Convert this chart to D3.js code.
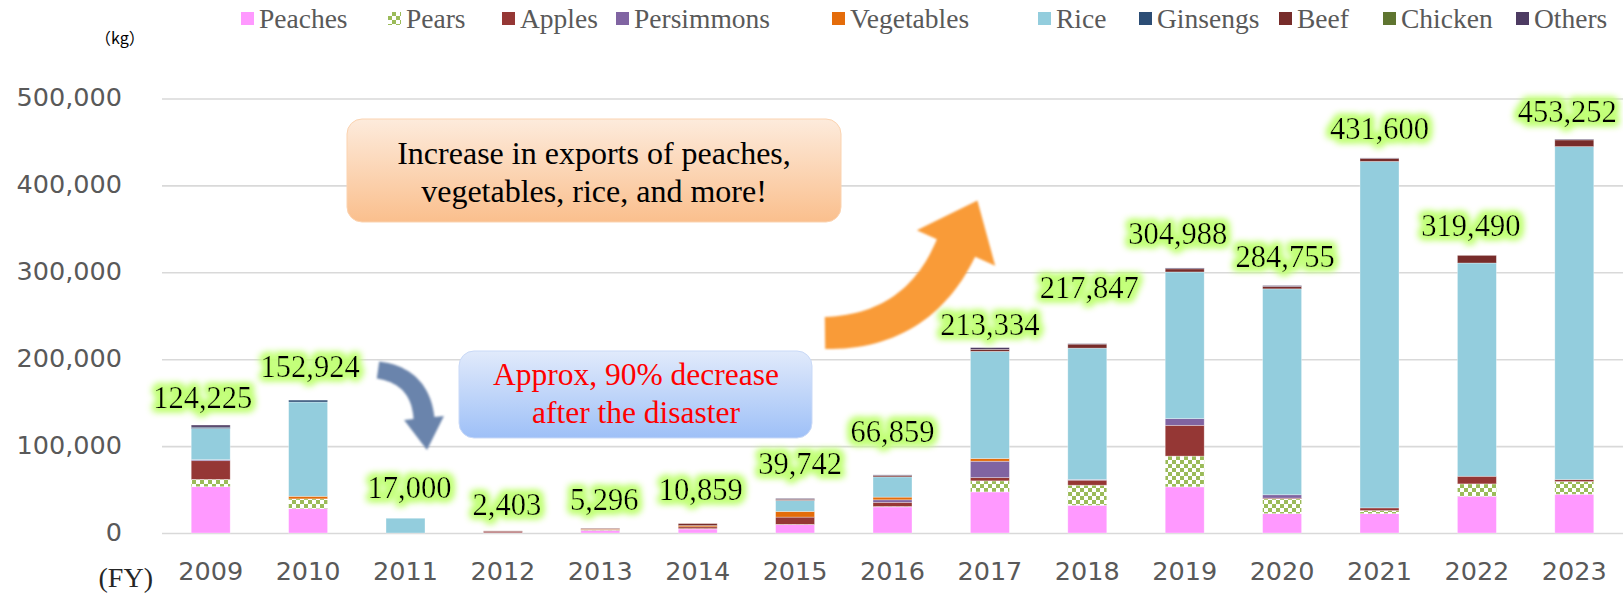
<!DOCTYPE html>
<html>
<head>
<meta charset="utf-8">
<title>Exports by item, FY2009-2023</title>
<script src="https://cdnjs.cloudflare.com/ajax/libs/d3/7.8.5/d3.min.js"></script>
<style>
body { margin: 0; background: #fff; }
svg { display: block; }
</style>
</head>
<body>
<div id="chart"></div>
<script>
// ---- data (kg) ----
var years = ["2009","2010","2011","2012","2013","2014","2015","2016","2017","2018","2019","2020","2021","2022","2023"];
var items = ["Peaches","Pears","Apples","Persimmons","Vegetables","Rice","Ginsengs","Beef","Chicken","Others"];

var peaches    = [53300, 28100,     0,  300, 2900, 4600, 9600, 30000, 47300, 31900, 53100, 22300, 22300, 42300, 44600];
var pears      = [ 8400, 11150,     0,    0,  300,  400,  300,   500, 12700, 23100, 35400, 16900,  3500, 14200, 14600];
var apples     = [21500,     0,     0, 1700,  800, 2100, 8400,  4800,  3800,  5800, 35400,  1000,  3100,  8800,  2300];
var persimmons = [ 1200,     0,     0,    0,    0,    0,    0,  2900, 18800,   800,  7700,  3800,     0,     0,     0];
var vegetables = [    0,  3000,     0,    0,  500, 1400, 6500,  3100,  3100,     0,     0,     0,     0,     0,     0];
var rice       = [35800,108474, 17000,    0,    0,    0,12700, 23300,123334,151147,168788,236955,398700,245390,383152];
var ginsengs   = [ 1600,  2200,     0,    0,    0,    0,    0,     0,     0,     0,     0,     0,     0,     0,     0];
var beef       = [    0,     0,     0,  403,  796, 2359, 1300,  1559,  2300,  4600,  3600,  2800,  3500,  8800,  7700];
var chicken    = [    0,     0,     0,    0,    0,    0,    0,     0,     0,     0,     0,     0,     0,     0,     0];
var others     = [ 2425,     0,     0,    0,    0,    0,  942,   700,  2000,   500,  1000,  1000,   500,     0,   900];

var totals = [124225, 152924, 17000, 2403, 5296, 10859, 39742, 66859, 213334, 217847, 304988, 284755, 431600, 319490, 453252];
var yTicks = [0, 100000, 200000, 300000, 400000, 500000];

// hand placement of the total labels in the original (px above bar top / px sideways)
var labelLift  = [17, 23, 20, 16, 18, 24, 24, 33, 13, 46, 24, 19, 19, 19, 17];
var labelShift = [-8, 2, 4, 4, 4, 3, 5, 0, 0, 2, -7, 3, 0, -6, -7];
// legend slots as laid out in the original
var legendX = [241, 388, 502, 616, 832, 1038, 1139, 1279, 1383, 1516];

var itemColors = ["#FF99FF", "url(#pearsCheck)", "#953735", "#8064A2", "#E46C0A",
                  "#93CDDD", "#2C4D75", "#772C2A", "#5F7530", "#4D3B62"];

var seriesValues = [peaches, pears, apples, persimmons, vegetables, rice, ginsengs, beef, chicken, others];

var table = years.map(function(y, i) {
  var row = { year: y };
  items.forEach(function(k, j) { row[k] = seriesValues[j][i]; });
  return row;
});

// ---- layout ----
var width = 1623, height = 593;
var plotLeft = 162, plotRight = 1623, plotBottom = 533, plotTop = 98.5;
var serif = "'Liberation Serif', 'Times New Roman', serif";
var sans = "'DejaVu Sans', sans-serif";

var svg = d3.select("#chart").append("svg")
  .attr("width", width)
  .attr("height", height);

var defs = svg.append("defs");

var pat = defs.append("pattern")
  .attr("id", "pearsCheck")
  .attr("width", 8).attr("height", 8)
  .attr("patternUnits", "userSpaceOnUse");
pat.append("rect").attr("width", 8).attr("height", 8).attr("fill", "#fff");
pat.append("rect").attr("width", 4).attr("height", 4).attr("fill", "#9BBB59");
pat.append("rect").attr("x", 4).attr("y", 4).attr("width", 4).attr("height", 4).attr("fill", "#9BBB59");

// green glow behind the totals
var glow = defs.append("filter").attr("id", "glow")
  .attr("x", "-25%").attr("y", "-60%").attr("width", "150%").attr("height", "220%");
glow.append("feMorphology").attr("in", "SourceAlpha").attr("operator", "dilate").attr("radius", 3).attr("result", "d");
glow.append("feGaussianBlur").attr("in", "d").attr("stdDeviation", 3.5).attr("result", "b");
glow.append("feFlood").attr("flood-color", "#c2ff78");
glow.append("feComposite").attr("in2", "b").attr("operator", "in").attr("result", "g");
var gm = glow.append("feMerge");
gm.append("feMergeNode").attr("in", "g");
gm.append("feMergeNode").attr("in", "g");
gm.append("feMergeNode").attr("in", "SourceGraphic");

var soft = defs.append("filter").attr("id", "soft");
soft.append("feGaussianBlur").attr("stdDeviation", 0.8);

function vGrad(id, top, bottom) {
  var g = defs.append("linearGradient").attr("id", id)
    .attr("x1", 0).attr("y1", 0).attr("x2", 0).attr("y2", 1);
  g.append("stop").attr("offset", "0%").attr("stop-color", top);
  g.append("stop").attr("offset", "100%").attr("stop-color", bottom);
}
vGrad("orangeBox", "#FDEBDC", "#FABF8D");
vGrad("blueBox", "#E1EAFB", "#9EC0F7");

// ---- scales ----
var x = d3.scaleBand()
  .domain(years)
  .range([plotLeft, plotRight])
  .paddingInner(0.6)
  .paddingOuter(0.3);

var y = d3.scaleLinear()
  .domain([0, 500000])
  .range([plotBottom, plotTop]);

// y axis + gridlines
var yAxis = svg.append("g")
  .attr("transform", "translate(" + plotLeft + ",0)")
  .call(d3.axisLeft(y).tickValues(yTicks).tickFormat(d3.format(","))
    .tickSize(-(plotRight - plotLeft)).tickPadding(40));
yAxis.select(".domain").remove();
yAxis.selectAll(".tick line").attr("stroke", "#D9D9D9").attr("stroke-width", 1.6);
yAxis.selectAll(".tick text")
  .attr("font-family", sans).attr("font-size", 25.5)
  .attr("fill", "#595959").attr("dy", "0.28em");

// x axis
var xAxis = svg.append("g")
  .attr("transform", "translate(0," + plotBottom + ")")
  .call(d3.axisBottom(x).tickSize(0).tickPadding(29));
xAxis.select(".domain").remove();
xAxis.selectAll(".tick text")
  .attr("font-family", sans).attr("font-size", 25.5).attr("fill", "#595959");

// ---- stacked bars ----
var stacked = d3.stack().keys(items)(table);

svg.append("g").selectAll("g")
  .data(stacked)
  .join("g")
    .attr("fill", function(d, i) { return itemColors[i]; })
  .selectAll("rect")
  .data(function(d) { return d.filter(function(p) { return p[1] - p[0] > 0; }); })
  .join("rect")
    .attr("x", function(d) { return x(d.data.year); })
    .attr("width", x.bandwidth())
    .attr("y", function(d) { return y(d[1]); })
    .attr("height", function(d) { return y(d[0]) - y(d[1]); })
    .attr("stroke", "#fff")
    .attr("stroke-opacity", 0.45)
    .attr("stroke-width", 0.7);

// ---- total labels ----
svg.append("g").selectAll("text")
  .data(totals)
  .join("text")
    .attr("x", function(d, i) { return x(years[i]) + x.bandwidth() / 2 + labelShift[i]; })
    .attr("y", function(d, i) { return y(d) - labelLift[i]; })
    .attr("text-anchor", "middle")
    .attr("font-family", serif)
    .attr("font-size", 30.5)
    .attr("fill", "#000")
    .attr("filter", "url(#glow)")
    .text(d3.format(","));

// ---- unit labels ----
svg.append("text")
  .attr("x", 95).attr("y", 44)
  .attr("font-family", "'Noto Sans CJK JP', sans-serif")
  .attr("font-size", 16)
  .text("（kg）");

svg.append("text")
  .attr("x", 153).attr("y", 587)
  .attr("text-anchor", "end")
  .attr("font-family", serif)
  .attr("font-size", 28)
  .attr("fill", "#262626")
  .text("(FY)");

// ---- legend ----
var legend = svg.append("g").selectAll("g")
  .data(items)
  .join("g")
    .attr("transform", function(d, i) { return "translate(" + legendX[i] + ",0)"; });
legend.append("rect")
  .attr("y", 12).attr("width", 13).attr("height", 13)
  .attr("fill", function(d, i) { return itemColors[i]; });
legend.append("text")
  .attr("x", 18).attr("y", 28)
  .attr("font-family", serif).attr("font-size", 27.5)
  .attr("fill", "#595959")
  .text(function(d) { return d; });

// ---- annotations ----
function blockArrow(p0, p1, p2, w0, w1, headW, headL) {
  var left = [], right = [], n = 30;
  function pt(t) {
    var a = (1 - t) * (1 - t), b = 2 * (1 - t) * t, c = t * t;
    return [a * p0[0] + b * p1[0] + c * p2[0], a * p0[1] + b * p1[1] + c * p2[1]];
  }
  function tan(t) {
    var dx = 2 * (1 - t) * (p1[0] - p0[0]) + 2 * t * (p2[0] - p1[0]);
    var dy = 2 * (1 - t) * (p1[1] - p0[1]) + 2 * t * (p2[1] - p1[1]);
    var l = Math.sqrt(dx * dx + dy * dy);
    return [dx / l, dy / l];
  }
  for (var i = 0; i <= n; i++) {
    var t = i / n, p = pt(t), d = tan(t), w = (w0 + (w1 - w0) * t) / 2;
    left.push([p[0] + d[1] * w, p[1] - d[0] * w]);
    right.push([p[0] - d[1] * w, p[1] + d[0] * w]);
  }
  var e = pt(1), de = tan(1), hw = headW / 2;
  var pts = left.concat([
    [e[0] + de[1] * hw, e[1] - de[0] * hw],
    [e[0] + de[0] * headL, e[1] + de[1] * headL],
    [e[0] - de[1] * hw, e[1] + de[0] * hw]
  ]).concat(right.reverse());
  return "M" + pts.map(function(p) { return p[0].toFixed(1) + "," + p[1].toFixed(1); }).join("L") + "Z";
}

svg.append("path")
  .attr("d", blockArrow([378, 370], [420, 376], [424, 418], 17, 21, 40, 32))
  .attr("fill", "#6A84AC")
  .attr("filter", "url(#soft)");

svg.append("path")
  .attr("d", blockArrow([825, 333], [918, 332], [956, 248], 32, 42, 86, 52))
  .attr("fill", "#F99B38")
  .attr("filter", "url(#soft)");

svg.append("rect")
  .attr("x", 347).attr("y", 119).attr("width", 494).attr("height", 103)
  .attr("rx", 15)
  .attr("fill", "url(#orangeBox)")
  .attr("stroke", "#FBD3B0").attr("stroke-width", 1);

svg.append("text")
  .attr("x", 594).attr("y", 164)
  .attr("text-anchor", "middle")
  .attr("font-family", serif).attr("font-size", 32)
  .text("Increase in exports of peaches,");
svg.append("text")
  .attr("x", 594).attr("y", 202)
  .attr("text-anchor", "middle")
  .attr("font-family", serif).attr("font-size", 32)
  .text("vegetables, rice, and more!");

svg.append("rect")
  .attr("x", 459).attr("y", 351).attr("width", 353).attr("height", 87)
  .attr("rx", 15)
  .attr("fill", "url(#blueBox)")
  .attr("stroke", "#C9D9F7").attr("stroke-width", 1);

svg.append("text")
  .attr("x", 636).attr("y", 385)
  .attr("text-anchor", "middle")
  .attr("font-family", serif).attr("font-size", 31.5)
  .attr("fill", "#FF0000")
  .text("Approx, 90% decrease");
svg.append("text")
  .attr("x", 636).attr("y", 423)
  .attr("text-anchor", "middle")
  .attr("font-family", serif).attr("font-size", 31.5)
  .attr("fill", "#FF0000")
  .text("after the disaster");
</script>
</body>
</html>
